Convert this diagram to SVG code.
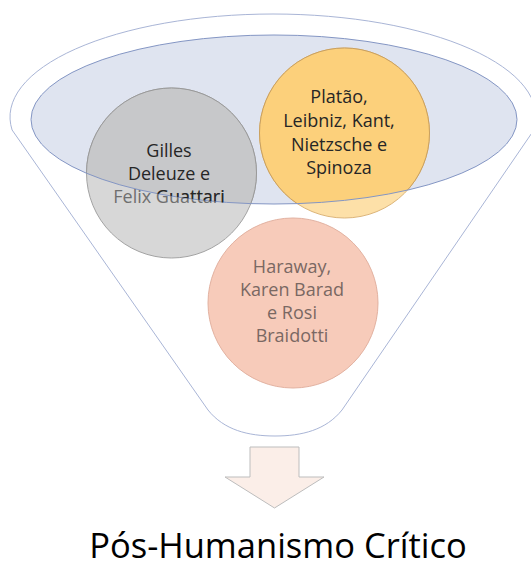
<svg xmlns="http://www.w3.org/2000/svg" width="531" height="567" viewBox="0 0 531 567">
<defs>
<style>
.lbl{font-family:"Open Sans","Noto Sans","Liberation Sans",sans-serif;font-size:18px;text-anchor:middle}
.dark{fill:#262626}
.light{fill:#6f6f6f}
.pinkt{fill:#7a6863}
.title{font-family:"Open Sans","Noto Sans","Liberation Sans",sans-serif;font-size:34.5px;text-anchor:middle;fill:#000}
</style>
<clipPath id="inner"><ellipse cx="274" cy="119.5" rx="243" ry="84.5"/></clipPath>
</defs>
<rect width="531" height="567" fill="#fff"/>
<g id="funnel">
<path d="M12.1 130 A263 103 0 1 1 533.9 130 L342 410 C326 430 302 436 275 436 C248 436 224 430 208 410 Z" fill="#fff" stroke="#a9b5d6" stroke-width="1"/>
<ellipse cx="274" cy="119.5" rx="243" ry="84.5" fill="#dfe4f0"/>
</g>
<g id="node-deleuze">
<circle cx="171.5" cy="173" r="85" fill="#d7d7d7" stroke="#a3a3a3" stroke-width="1"/>
<circle cx="171.5" cy="173" r="85" fill="#c7c8ca" stroke="#9a9a9a" stroke-width="1" clip-path="url(#inner)"/>
</g>
<g id="node-platao">
<circle cx="344.5" cy="133" r="85" fill="#fde0a8" stroke="#dcb57a" stroke-width="1"/>
<circle cx="344.5" cy="133" r="85" fill="#fcd07b" stroke="#c9a060" stroke-width="1" clip-path="url(#inner)"/>
</g>
<g id="node-haraway">
<circle cx="293" cy="303" r="85" fill="#f7cbba" stroke="#e2b1a0" stroke-width="1"/>
</g>
<g id="inner-edge">
<ellipse cx="274" cy="119.5" rx="243" ry="84.5" fill="none" stroke="#8496c4" stroke-width="1"/>
</g>
<g id="labels">
<text class="lbl light" x="169" y="203">Felix Guattari</text>
<g clip-path="url(#inner)">
<text class="lbl dark" x="169" y="157">Gilles</text>
<text class="lbl dark" x="169" y="180">Deleuze e</text>
<text class="lbl dark" x="169" y="203">Felix Guattari</text>
<text class="lbl dark" x="339" y="103">Platão,</text>
<text class="lbl dark" x="339" y="127">Leibniz, Kant,</text>
<text class="lbl dark" x="339" y="151">Nietzsche e</text>
<text class="lbl dark" x="339" y="174">Spinoza</text>
</g>
<text class="lbl pinkt" x="292" y="273">Haraway,</text>
<text class="lbl pinkt" x="292" y="296">Karen Barad</text>
<text class="lbl pinkt" x="292" y="319">e Rosi</text>
<text class="lbl pinkt" x="292" y="342">Braidotti</text>
</g>
<g id="connectors">
<path d="M250 447 H299 V477 H324 L274.5 508 L225 477 H250 Z" fill="#fbeee8" stroke="#bdbdbd" stroke-width="1"/>
</g>
<g id="node-result">
<text class="title" x="278" y="558">Pós-Humanismo Crítico</text>
</g>
</svg>
